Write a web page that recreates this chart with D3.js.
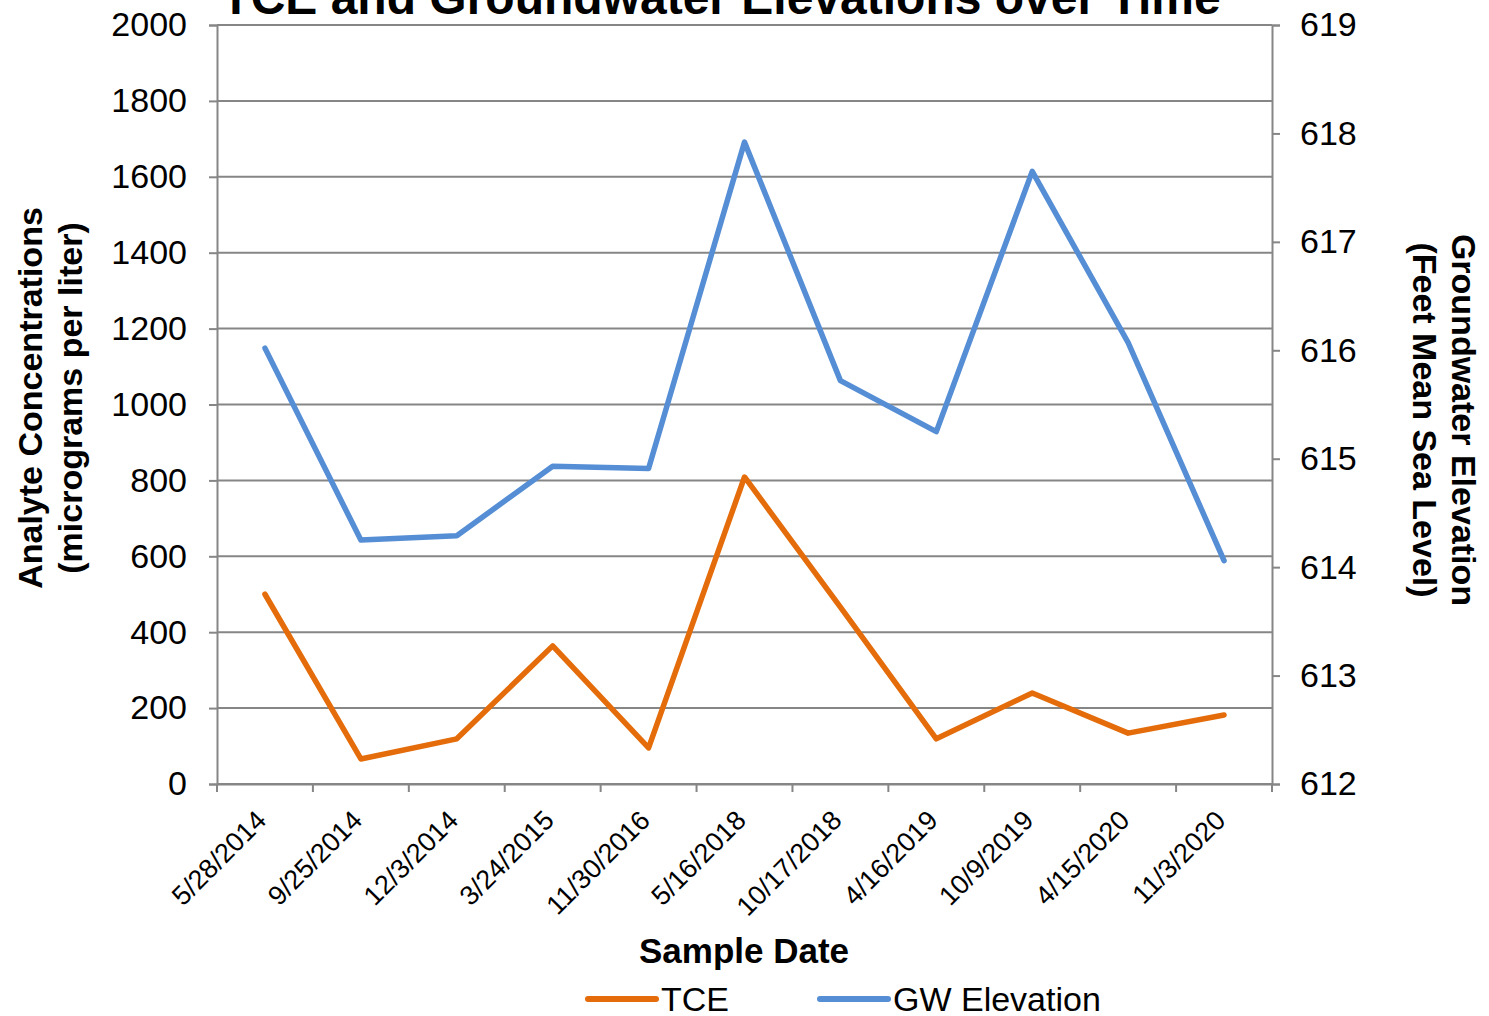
<!DOCTYPE html>
<html>
<head>
<meta charset="utf-8">
<script src="https://cdn.jsdelivr.net/npm/d3@7"></script>
<style>
  body { margin: 0; background: #fff; }
  text { font-family: "Liberation Sans", Arial, sans-serif; }
</style>
</head>
<body>
<script>
const dates = ["5/28/2014", "9/25/2014", "12/3/2014", "3/24/2015", "11/30/2016", "5/16/2018",
               "10/17/2018", "4/16/2019", "10/9/2019", "4/15/2020", "11/3/2020"];
const tce = [500, 66, 119, 364, 95, 809, 466, 119, 240, 134, 182];
const gwElev = [616.02, 614.25, 614.29, 614.93, 614.91, 617.92, 615.72, 615.25, 617.65, 616.07, 614.06];
const leftTicks = [0, 200, 400, 600, 800, 1000, 1200, 1400, 1600, 1800, 2000];
const rightTicks = [612, 613, 614, 615, 616, 617, 618, 619];

const W = 1489, H = 1016;
const m = {top: 25, left: 217, right: 1272, bottom: 784};
const axisCol = "#868686";
const tceCol = "#E46C0A", gwCol = "#558ED5";

const svg = d3.select("body").append("svg").attr("width", W).attr("height", H);

const x = d3.scaleBand().domain(dates).range([m.left, m.right]);
const yL = d3.scaleLinear().domain([0, 2000]).range([m.bottom, m.top]);
const yR = d3.scaleLinear().domain([612, 619]).range([m.bottom, m.top]);

// gridlines
svg.append("g").selectAll("line").data(leftTicks).join("line")
  .attr("x1", m.left).attr("x2", m.right)
  .attr("y1", d => yL(d)).attr("y2", d => yL(d))
  .attr("stroke", axisCol).attr("stroke-width", 2);

// left axis
const gL = svg.append("g").attr("transform", `translate(${m.left},0)`)
  .call(d3.axisLeft(yL).tickValues(leftTicks).tickSize(8).tickPadding(22).tickFormat(d3.format("d")));
// right axis
const gR = svg.append("g").attr("transform", `translate(${m.right},0)`)
  .call(d3.axisRight(yR).tickValues(rightTicks).tickSize(8).tickPadding(20).tickFormat(d3.format("d")));
// bottom axis (ticks at band edges)
const gB = svg.append("g").attr("transform", `translate(0,${m.bottom})`)
  .call(d3.axisBottom(x).tickSize(0).tickFormat(""));
gB.selectAll("line.edge").data(d3.range(dates.length + 1)).join("line").attr("class", "edge")
  .attr("x1", i => m.left + i * x.step()).attr("x2", i => m.left + i * x.step())
  .attr("y1", 0).attr("y2", 8).attr("stroke", axisCol).attr("stroke-width", 2);
gB.selectAll("text.lbl").data(dates).join("text").attr("class", "lbl")
  .attr("transform", d => `translate(${x(d) + x.bandwidth() / 2 + 3},${38}) rotate(-45)`)
  .attr("text-anchor", "end").attr("font-size", 27).attr("fill", "#000").text(d => d);

[gL, gR, gB].forEach(g => {
  g.select(".domain").attr("stroke", axisCol).attr("stroke-width", 2);
  g.selectAll(".tick line").attr("stroke", axisCol).attr("stroke-width", 2);
  g.selectAll(".tick text").attr("font-size", 34).attr("fill", "#000")
   .attr("font-family", "Liberation Sans, Arial, sans-serif");
});

// lines
const cx = d => x(d) + x.bandwidth() / 2;
svg.append("path").datum(dates.map((d, i) => [cx(d), yR(gwElev[i])]))
  .attr("d", d3.line()).attr("fill", "none").attr("stroke", gwCol)
  .attr("stroke-width", 5.5).attr("stroke-linejoin", "round").attr("stroke-linecap", "round");
svg.append("path").datum(dates.map((d, i) => [cx(d), yL(tce[i])]))
  .attr("d", d3.line()).attr("fill", "none").attr("stroke", tceCol)
  .attr("stroke-width", 5.5).attr("stroke-linejoin", "round").attr("stroke-linecap", "round");

// titles (main title is clipped by the top edge, as in the original)
svg.append("text").attr("x", 721).attr("y", 14).attr("text-anchor", "middle")
  .attr("font-size", 48).attr("font-weight", "bold").text("TCE and Groundwater Elevations over Time");

svg.append("text").attr("x", 744).attr("y", 963).attr("text-anchor", "middle")
  .attr("font-size", 35).attr("font-weight", "bold").text("Sample Date");

const lt = svg.append("g").attr("transform", "translate(0,398) rotate(-90)")
  .attr("text-anchor", "middle").attr("font-size", 34).attr("font-weight", "bold");
lt.append("text").attr("x", 0).attr("y", 42).text("Analyte Concentrations");
lt.append("text").attr("x", 0).attr("y", 82).text("(micrograms per liter)");

const rt = svg.append("g").attr("transform", "translate(1489,420) rotate(90)")
  .attr("text-anchor", "middle").attr("font-size", 34).attr("font-weight", "bold");
rt.append("text").attr("x", 0).attr("y", 37).text("Groundwater Elevation");
rt.append("text").attr("x", 0).attr("y", 76).text("(Feet Mean Sea Level)");

// legend
const legend = [{name: "TCE", color: tceCol, x: 588}, {name: "GW Elevation", color: gwCol, x: 820}];
const lg = svg.append("g").selectAll("g").data(legend).join("g")
  .attr("transform", d => `translate(${d.x},999)`);
lg.append("line").attr("x1", 0).attr("x2", 68).attr("stroke", d => d.color)
  .attr("stroke-width", 6).attr("stroke-linecap", "round");
lg.append("text").attr("x", 73).attr("y", 12).attr("font-size", 34).text(d => d.name);
</script>
</body>
</html>
